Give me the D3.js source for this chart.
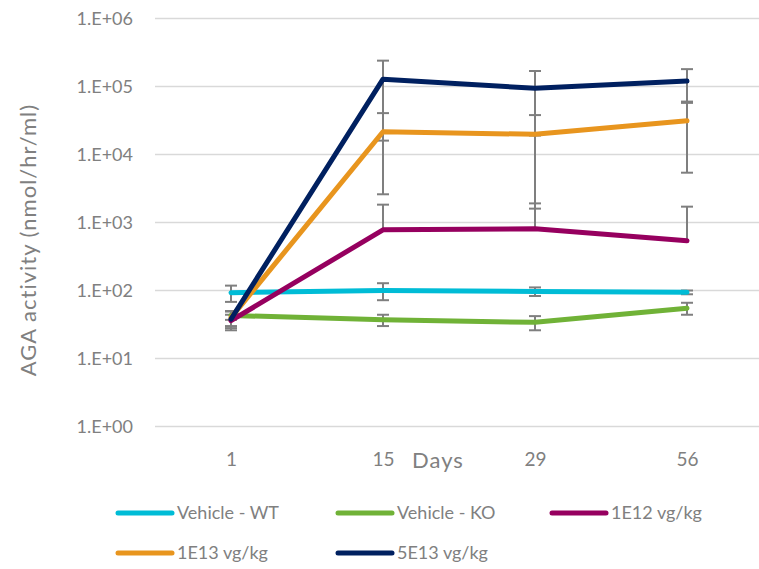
<!DOCTYPE html>
<html>
<head>
<meta charset="utf-8">
<script src="https://cdn.jsdelivr.net/npm/d3@7"></script>
<style>
  body { margin: 0; background: #fff; }
  text { font-family: Lato, "Open Sans", sans-serif; fill: #808080; }
</style>
</head>
<body>
<svg id="chart" width="759" height="569"></svg>
<script>
// chart data
const days = ['1', '15', '29', '56'];
const seriesNames = ['Vehicle - WT', 'Vehicle - KO', '1E12 vg/kg', '1E13 vg/kg', '5E13 vg/kg'];
const seriesColors = ['#00bcd6', '#70b237', '#96005f', '#e8951e', '#002060'];
const wtValues = [93, 100, 97, 94];
const wtErr = [25, 28, 14, 6];
const koValues = [43, 37, 34, 55];
const koErr = [6, 7, 8, 11];
const e12Values = [36, 780, 810, 540];
const e12Err = [8, 1050, 1100, 1170];
const e13Values = [40, 21600, 19800, 31400];
const e13Err = [10, 19000, 18200, 26000];
const e5Values = [38, 128000, 94000, 120000];
const e5Err = [12, 112000, 75000, 60000];
const yTicks = [1, 10, 100, 1000, 10000, 100000, 1000000];

const allValues = [wtValues, koValues, e12Values, e13Values, e5Values];
const allErr = [wtErr, koErr, e12Err, e13Err, e5Err];
const series = seriesNames.map((name, i) => ({
	name,
	color: seriesColors[i],
	points: days.map((d, j) => ({ day: d, v: allValues[i][j], e: allErr[i][j] }))
}));

const svg = d3.select('#chart');
const plotL = 155, plotR = 763, plotT = 18.5, plotB = 426.5;

const x = d3.scalePoint().domain(days).range([plotL, plotR]).padding(0.5);
const y = d3.scaleLog().domain([1, 1e6]).range([plotB, plotT]);

// gridlines
svg.append('g')
   .selectAll('line')
   .data(yTicks)
   .join('line')
   .attr('x1', plotL).attr('x2', plotR)
   .attr('y1', d => y(d)).attr('y2', d => y(d))
   .attr('stroke', '#d9d9d9').attr('stroke-width', 1.5);

// y axis labels
const fmt = d => '1.E+' + String(Math.round(Math.log10(d))).padStart(2, '0');
const yAx = svg.append('g')
   .attr('transform', `translate(${plotL - 22},0)`)
   .call(d3.axisLeft(y).tickValues(yTicks).tickFormat(fmt).tickSize(0).tickPadding(0));
yAx.select('.domain').remove();
yAx.selectAll('text').attr('font-size', 18).style('font-family', 'Lato').attr('fill', '#808080');

// x axis labels
const xAx = svg.append('g')
   .attr('transform', `translate(0,${plotB + 26})`)
   .call(d3.axisBottom(x).tickSize(0).tickPadding(0));
xAx.select('.domain').remove();
xAx.selectAll('text').attr('font-size', 19).style('font-family', 'Lato').attr('fill', '#808080');

svg.append('text')
   .attr('x', 438).attr('y', 468)
   .attr('text-anchor', 'middle')
   .attr('font-size', 22)
   .attr('letter-spacing', 1)
   .text('Days');

svg.append('text')
   .attr('transform', 'translate(36,240) rotate(-90)')
   .attr('text-anchor', 'middle')
   .attr('font-size', 22)
   .attr('letter-spacing', 1)
   .text('AGA activity (nmol/hr/ml)');

// error bars (under the lines)
const errG = svg.append('g').attr('stroke', '#7f7f7f').attr('stroke-width', 2);
series.forEach(s => {
	s.points.forEach(p => {
		const cx = x(p.day);
		const yHi = y(p.v + p.e);
		const yLo = p.v - p.e > 0 ? y(p.v - p.e) : y(p.v);
		errG.append('line').attr('x1', cx).attr('x2', cx).attr('y1', yHi).attr('y2', yLo);
		errG.append('line').attr('x1', cx - 6).attr('x2', cx + 6).attr('y1', yHi).attr('y2', yHi);
		if (p.v - p.e > 0) {
			errG.append('line').attr('x1', cx - 6).attr('x2', cx + 6).attr('y1', yLo).attr('y2', yLo);
		}
	});
});

// series lines
const line = d3.line().x(d => x(d.day)).y(d => y(d.v));
svg.append('g')
   .selectAll('path')
   .data(series)
   .join('path')
   .attr('d', d => line(d.points))
   .attr('fill', 'none')
   .attr('stroke', d => d.color)
   .attr('stroke-width', 5)
   .attr('stroke-linecap', 'round')
   .attr('stroke-linejoin', 'round');

// legend
const legendPos = [[118, 513], [338, 513], [552, 513], [118, 553], [338, 553]];
const leg = svg.append('g')
   .selectAll('g')
   .data(series)
   .join('g')
   .attr('transform', (d, i) => `translate(${legendPos[i][0]},${legendPos[i][1]})`);
leg.append('line')
   .attr('x1', 0).attr('x2', 54)
   .attr('stroke', d => d.color)
   .attr('stroke-width', 5)
   .attr('stroke-linecap', 'round');
leg.append('text')
   .attr('x', 59).attr('y', 0)
   .attr('dy', '0.35em')
   .attr('font-size', 18)
   .text(d => d.name);
</script>
</body>
</html>
